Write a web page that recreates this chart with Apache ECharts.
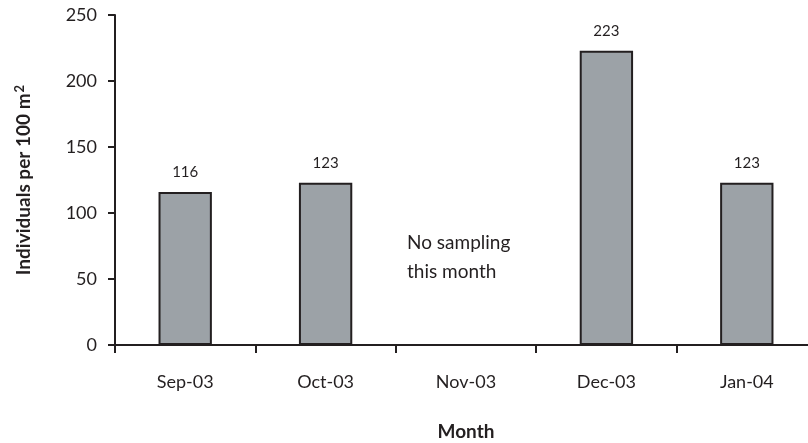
<!DOCTYPE html>
<html><head><meta charset="utf-8">
<script src="https://cdn.jsdelivr.net/npm/echarts@6/dist/echarts.min.js"></script>
<style>html,body{margin:0;padding:0;background:#fff}#c{width:808px;height:443px}</style>
</head><body><div id="c"></div>
<script>
var categories = ['Sep-03', 'Oct-03', 'Nov-03', 'Dec-03', 'Jan-04'];
var values = [116, 123, null, 223, 123];
var yTicks = { min: 0, max: 250, interval: 50 };
var note = ['No sampling', 'this month'];

var chart = echarts.init(document.getElementById('c'));
var FONT = 'Lato, "Open Sans", sans-serif';
var INK = '#231f20';
chart.setOption({
  animation: false,
  textStyle: { fontFamily: FONT },
  grid: { left: 115, right: -9, top: 15, bottom: 98, outerBoundsMode: 'none', containLabel: false },
  xAxis: {
    type: 'category',
    data: categories,
    name: 'Month',
    nameLocation: 'middle',
    nameGap: 77,
    nameTextStyle: { fontFamily: FONT, fontSize: 19, fontWeight: 'bold', color: INK },
    axisLine: { lineStyle: { color: INK, width: 2 } },
    axisTick: { show: true, length: 8, lineStyle: { color: INK, width: 2 } },
    axisLabel: { fontFamily: FONT, fontSize: 18, color: INK, margin: 28 },
    splitLine: { show: false }
  },
  yAxis: {
    type: 'value',
    min: yTicks.min, max: yTicks.max, interval: yTicks.interval,
    name: '{b|Individuals per 100 m}{sup|2}',
    nameLocation: 'middle',
    nameGap: 80,
    nameTextStyle: {
      fontFamily: FONT, fontSize: 19, fontWeight: 'bold', color: INK,
      rich: {
        b: { fontFamily: FONT, fontSize: 19, fontWeight: 'bold', color: INK },
        sup: { fontFamily: FONT, fontSize: 13, fontWeight: 'bold', color: INK, padding: [0, 0, 9, 1] }
      }
    },
    axisLine: { show: true, lineStyle: { color: INK, width: 2 } },
    axisTick: { show: true, length: 7, lineStyle: { color: INK, width: 2 } },
    axisLabel: { fontFamily: FONT, fontSize: 18, color: INK, margin: 18 },
    splitLine: { show: false }
  },
  series: [{
    type: 'bar',
    data: values,
    barWidth: '38%',
    itemStyle: { color: '#9ca2a7', borderColor: INK, borderWidth: 2 },
    label: { show: true, position: 'top', distance: 12, fontFamily: FONT, fontSize: 15, color: INK }
  }],
  graphic: [{
    type: 'text',
    left: 407, top: 228,
    style: { text: note.join('\n'), fontFamily: FONT, fontSize: 19, lineHeight: 29, fill: INK }
  }]
});
</script></body></html>
